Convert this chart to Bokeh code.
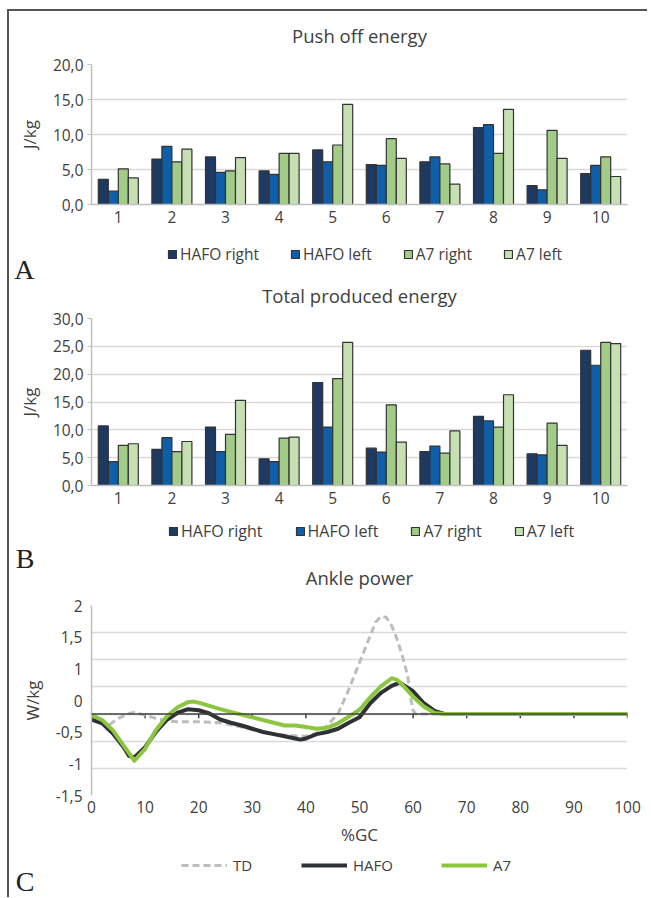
from bokeh.plotting import figure
from bokeh.models import Range1d, FixedTicker, Legend, LegendItem, Label, Span
from bokeh.layouts import column
from bokeh.transform import dodge
from bokeh.embed import file_html
from bokeh.resources import INLINE
import numpy as np

# ---------------- data ----------------
participants = [1, 2, 3, 4, 5, 6, 7, 8, 9, 10]
series_names = ["HAFO right", "HAFO left", "A7 right", "A7 left"]

push_hafo_right = [3.6, 6.5, 6.8, 4.8, 7.8, 5.7, 6.1, 11.0, 2.7, 4.4]
push_hafo_left = [1.9, 8.3, 4.6, 4.3, 6.1, 5.6, 6.8, 11.4, 2.1, 5.6]
push_a7_right = [5.1, 6.1, 4.8, 7.3, 8.5, 9.4, 5.8, 7.3, 10.6, 6.8]
push_a7_left = [3.8, 7.9, 6.7, 7.3, 14.3, 6.6, 2.9, 13.6, 6.6, 4.0]

total_hafo_right = [10.7, 6.5, 10.5, 4.8, 18.5, 6.7, 6.1, 12.4, 5.7, 24.3]
total_hafo_left = [4.3, 8.6, 6.1, 4.3, 10.5, 6.0, 7.1, 11.6, 5.5, 21.6]
total_a7_right = [7.2, 6.1, 9.2, 8.5, 19.2, 14.5, 5.8, 10.5, 11.2, 25.7]
total_a7_left = [7.5, 7.9, 15.3, 8.7, 25.7, 7.8, 9.8, 16.3, 7.2, 25.5]

push_ticks = [0, 5, 10, 15, 20]
push_tick_labels = ["0,0", "5,0", "10,0", "15,0", "20,0"]
total_ticks = [0, 5, 10, 15, 20, 25, 30]
total_tick_labels = ["0,0", "5,0", "10,0", "15,0", "20,0", "25,0", "30,0"]

td_gc = [0, 3, 5, 7, 8, 10, 12, 14, 16, 20, 24, 28, 32, 36, 40, 42, 44, 46, 48, 50,
         52, 53, 54, 55, 56, 57, 58, 59, 59.5, 60, 60.5, 62, 66, 70, 80, 90, 100]
td_power = [0.0, -0.22, -0.08, 0.01, 0.03, -0.02, -0.08, -0.12, -0.14, -0.14, -0.16, -0.24,
            -0.33, -0.39, -0.41, -0.36, -0.21, 0.01, 0.45, 0.95,
            1.44, 1.69, 1.80, 1.78, 1.63, 1.38, 1.07, 0.70, 0.32, 0.07, 0.0, 0.0, 0.0, 0.0, 0.0, 0.0, 0.0]

hafo_gc = [0, 2, 4, 6, 7, 8, 10, 12, 14, 16, 18, 20, 22, 24, 26, 28, 30, 32, 34, 36, 38, 39, 40,
           42, 44, 46, 48, 50, 52, 54, 56, 57.5, 60, 62, 64, 66, 70, 80, 90, 100]
hafo_power = [-0.10, -0.17, -0.36, -0.61, -0.77, -0.80, -0.61, -0.33, -0.11, 0.02, 0.09, 0.07,
              0.01, -0.10, -0.16, -0.21, -0.27, -0.33, -0.37, -0.41, -0.45, -0.47, -0.45,
              -0.37, -0.33, -0.27, -0.16, -0.06, 0.20, 0.39, 0.52, 0.58, 0.42, 0.20, 0.06, 0.0,
              0.0, 0.0, 0.0, 0.0]

a7_gc = [0, 2, 4, 6, 8, 10, 12, 14, 16, 18, 19, 20, 22, 24, 26, 28, 30, 32, 34, 36, 38, 40,
         42, 44, 46, 48, 50, 52, 54, 56, 57, 58, 60, 62, 64, 66, 70, 80, 90, 100]
a7_power = [-0.02, -0.11, -0.30, -0.58, -0.86, -0.64, -0.30, -0.05, 0.12, 0.22, 0.23, 0.21,
            0.15, 0.09, 0.04, -0.01, -0.06, -0.11, -0.16, -0.21, -0.21, -0.24,
            -0.27, -0.25, -0.17, -0.05, 0.08, 0.31, 0.51, 0.66, 0.63, 0.54, 0.32, 0.14, 0.02, 0.0,
            0.0, 0.0, 0.0, 0.0]

gc_ticks = [0, 10, 20, 30, 40, 50, 60, 70, 80, 90, 100]
power_grid = [-1.5, -1.0, -0.5, 0.0, 0.5, 1.0, 1.5, 2.0]
power_tick_labels = ["2", "1,5", "1", "0", "-0,5", "-1", "-1,5"]

# ---------------- style ----------------
FONT = "Open Sans"
TXT = "#404040"
GRID = "#d9d9d9"
AXIS = "#bfbfbf"
bar_colors = ["#1f3a60", "#0f5ea8", "#a1cb87", "#c6e0b4"]
W = 638
LEFT = 82
RIGHT = W - LEFT - 536
FRAME_CX = 268  # centre of the 536 px plotting frame


def strip(height, letter=None, letter_y=None):
    # text strip sharing the charts' frame (legend glyph renderers are hidden)
    s = figure(width=W, height=height, x_range=Range1d(-3000, -2000), y_range=Range1d(0, height),
               x_axis_type=None, output_backend="svg", toolbar_location=None,
               min_border_left=LEFT, min_border_right=RIGHT, min_border_top=0, min_border_bottom=0)
    s.outline_line_color = None
    s.background_fill_color = "white"
    s.border_fill_color = "white"
    s.ygrid.grid_line_color = None
    ax = s.yaxis[0]
    ax.axis_line_color = None
    ax.major_tick_line_color = None
    ax.minor_tick_line_color = None
    ax.major_tick_in = 0
    ax.major_tick_out = 0
    ax.minor_tick_in = 0
    ax.minor_tick_out = 0
    if letter is None:
        ax.visible = False
    else:
        ax.ticker = FixedTicker(ticks=[letter_y])
        ax.major_label_overrides = {letter_y: letter}
        ax.major_label_text_font = "Liberation Serif"
        ax.major_label_text_font_size = "28px"
        ax.major_label_text_color = "#222222"
        ax.major_label_standoff = 57
    return s


def add_title(s, text, y):
    s.add_layout(Label(x=FRAME_CX, y=y, x_units="screen", y_units="screen", text=text,
                       text_font=FONT, text_font_size="18.5px", text_color=TXT,
                       text_align="center", text_baseline="middle"))


LEG = dict(orientation="horizontal", padding=0, margin=0, border_line_color=None,
           background_fill_alpha=0, inactive_fill_alpha=0, label_text_font=FONT,
           label_text_color=TXT, label_height=18)


def bar_legend(s, series, loc, spacing, size):
    items = []
    data = {"x": participants}
    for i, vals in enumerate(series):
        data[f"s{i}"] = vals
    for i, name in enumerate(series_names):
        r = s.vbar(x="x", top=f"s{i}", width=0.2, source=data, fill_color=bar_colors[i],
                   line_color="#333333", line_width=1.2, visible=False)
        items.append(LegendItem(label=name, renderers=[r]))
    s.add_layout(Legend(items=items, location=loc, spacing=spacing, glyph_width=10,
                        glyph_height=10, label_standoff=3, label_text_font_size=size, **LEG),
                 "center")


def base_fig(height, top, bottom, x_range, y_range):
    p = figure(width=W, height=height, x_range=x_range, y_range=y_range,
               output_backend="svg", toolbar_location=None,
               min_border_left=LEFT, min_border_right=RIGHT,
               min_border_top=top, min_border_bottom=bottom)
    p.outline_line_color = None
    p.background_fill_color = "white"
    p.border_fill_color = "white"
    p.xgrid.grid_line_color = None
    p.ygrid.grid_line_color = GRID
    p.ygrid.grid_line_width = 1.5
    for ax in (p.xaxis, p.yaxis):
        ax.major_label_text_font = FONT
        ax.major_label_text_font_size = "15.5px"
        ax.major_label_text_color = TXT
        ax.axis_label_text_font = FONT
        ax.axis_label_text_font_size = "17px"
        ax.axis_label_text_font_style = "normal"
        ax.axis_label_text_color = TXT
        ax.minor_tick_line_color = None
        ax.axis_line_color = AXIS
        ax.axis_line_width = 1.5
    return p


def bar_chart(series, ticks, tick_labels, height, top, bottom):
    p = base_fig(height, top, bottom, Range1d(0.5, 10.5), Range1d(0, ticks[-1]))
    data = {"x": participants}
    for i, vals in enumerate(series):
        data[f"s{i}"] = vals
    bw = 10 / 53.6
    offsets = [-1.5 * bw, -0.5 * bw, 0.5 * bw, 1.5 * bw]
    for i in range(len(series_names)):
        p.vbar(x=dodge("x", offsets[i], range=p.x_range), top=f"s{i}", width=bw,
               source=data, fill_color=bar_colors[i], line_color="#333333", line_width=1.2)
    p.xaxis.ticker = FixedTicker(ticks=participants)
    p.xaxis.major_tick_line_color = None
    p.xaxis.major_tick_out = 0
    p.xaxis.major_label_standoff = 6
    p.yaxis.ticker = FixedTicker(ticks=ticks)
    p.ygrid.ticker = FixedTicker(ticks=ticks)
    p.yaxis.major_label_overrides = {t: l for t, l in zip(ticks, tick_labels)}
    p.yaxis.major_tick_line_color = AXIS
    p.yaxis.major_tick_in = 0
    p.yaxis.major_tick_out = 4
    p.yaxis.major_label_standoff = 4
    p.yaxis.axis_label = "J/kg"
    p.yaxis.axis_label_standoff = 9
    return p


push_series = [push_hafo_right, push_hafo_left, push_a7_right, push_a7_left]
total_series = [total_hafo_right, total_hafo_left, total_a7_right, total_a7_left]

# ---- title A ----
sA = strip(41)
add_title(sA, "Push off energy", 17)
pA = bar_chart(push_series, push_ticks, push_tick_labels, 183, 12, 31)

# ---- legend A / letter A / title B ----
sAB = strip(72, "A", 38.5)
bar_legend(sAB, push_series, (76, 42), 31, "15.5px")
add_title(sAB, "Total produced energy", 12.5)

pB = bar_chart(total_series, total_ticks, total_tick_labels, 207, 11, 29)

# ---- legend B / letter B / title C ----
sBC = strip(76, "B", 32)
bar_legend(sBC, total_series, (77, 48), 32, "16px")
add_title(sBC, "Ankle power", 13)

# ---- ankle power ----
pC = base_fig(260, 15, 55, Range1d(0, 100), Range1d(-1.5, 2))
pC.ygrid.ticker = FixedTicker(ticks=power_grid)
label_pos = [float(v) for v in np.linspace(2, -1.5, len(power_tick_labels))]
pC.yaxis.ticker = FixedTicker(ticks=label_pos)
pC.yaxis.major_label_overrides = {t: l for t, l in zip(label_pos, power_tick_labels)}
pC.yaxis.major_tick_line_color = None
pC.yaxis.major_tick_out = 0
pC.yaxis.major_label_standoff = 9
pC.yaxis.axis_label = "W/kg"
pC.yaxis.axis_label_standoff = 9
pC.xaxis.ticker = FixedTicker(ticks=gc_ticks)
pC.xaxis.major_tick_line_color = None
pC.xaxis.major_tick_out = 0
pC.xaxis.axis_line_color = None
pC.xaxis.major_label_standoff = 5
pC.xaxis.axis_label = "%GC"
pC.xaxis.axis_label_standoff = 7

pC.add_layout(Span(location=0, dimension="width", line_color="#404040", line_width=1.5))
pC.segment(x0=gc_ticks, y0=[0] * len(gc_ticks), x1=gc_ticks, y1=[-0.075] * len(gc_ticks),
           line_color="#404040", line_width=1.5)

TD_STYLE = dict(line_color="#bdbdbd", line_width=3, line_dash="7 4")
HAFO_STYLE = dict(line_color="#2e3136", line_width=4, line_join="round")
A7_STYLE = dict(line_color="#8cc63f", line_width=4, line_join="round")
pC.line(td_gc, td_power, **TD_STYLE)
pC.line(hafo_gc, hafo_power, **HAFO_STYLE)
pC.line(a7_gc, a7_power, **A7_STYLE)

# ---- legend C / letter C ----
sC = strip(47, "C", 16)
l_td = sC.line(td_gc, td_power, visible=False, **TD_STYLE)
l_hafo = sC.line(hafo_gc, hafo_power, visible=False, **HAFO_STYLE)
l_a7 = sC.line(a7_gc, a7_power, visible=False, **A7_STYLE)
sC.add_layout(Legend(items=[LegendItem(label="TD", renderers=[l_td]),
                            LegendItem(label="HAFO", renderers=[l_hafo]),
                            LegendItem(label="A7", renderers=[l_a7])],
                     location=(90, 22), spacing=48, glyph_width=46, glyph_height=10,
                     label_standoff=6, label_text_font_size="15px", **LEG), "center")

layout = column(sA, pA, sAB, pB, sBC, pC, sC, spacing=0,
                styles={"margin-left": "7px", "margin-top": "9px",
                        "border-left": "2px solid #555555", "border-top": "2px solid #555555"})

open("out.html", "w").write(file_html(layout, INLINE))
